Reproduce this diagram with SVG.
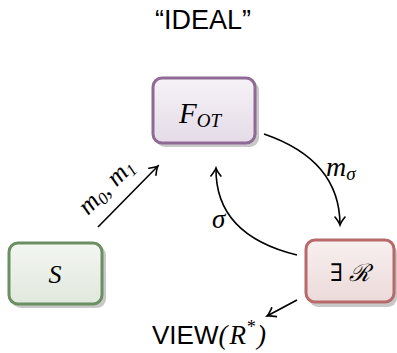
<svg xmlns="http://www.w3.org/2000/svg" width="397" height="353" viewBox="0 0 397 353">
<defs>
<linearGradient id="gP" x1="0" y1="0" x2="0" y2="1"><stop offset="0" stop-color="#f6f2f7"/><stop offset="1" stop-color="#e4dbe7"/></linearGradient>
<linearGradient id="gG" x1="0" y1="0" x2="0" y2="1"><stop offset="0" stop-color="#f3f6f1"/><stop offset="1" stop-color="#e1e8dd"/></linearGradient>
<linearGradient id="gR" x1="0" y1="0" x2="0" y2="1"><stop offset="0" stop-color="#f8f0f0"/><stop offset="1" stop-color="#ecdada"/></linearGradient>
<marker id="ah" viewBox="-10 -6 12 12" markerWidth="12" markerHeight="12" refX="0" refY="0" orient="auto" markerUnits="userSpaceOnUse">
<path d="M-8,-5 Q-3,-1 0,0 Q-3,1 -8,5" fill="none" stroke="#000" stroke-width="1.6" stroke-linecap="round"/>
</marker>
</defs>
<style>
.sh{fill:#c8c8c8}
.box{stroke-width:3}
.m{font-family:"Liberation Serif",serif;font-style:italic;fill:#000}
.s{font-family:"Liberation Sans",Arial,sans-serif;fill:#000}
.c{fill:none;stroke:#000;stroke-width:1.6;marker-end:url(#ah)}
</style>
<text class="s" x="203" y="29" font-size="27" text-anchor="middle">“IDEAL”</text>
<g id="fot">
<rect class="sh" x="156" y="81" width="103" height="66" rx="9"/>
<rect class="box" x="153" y="78" width="102" height="65" rx="9" fill="url(#gP)" stroke="#8e6a94"/>
<text class="m" x="179" y="123" font-size="29">F<tspan font-size="19" dy="4">OT</tspan></text>
</g>
<g id="s">
<rect class="sh" x="12" y="246" width="94" height="62" rx="9"/>
<rect class="box" x="9" y="243" width="93" height="61" rx="9" fill="url(#gG)" stroke="#6a8f62"/>
<text class="m" x="55" y="283" font-size="26" text-anchor="middle">S</text>
</g>
<g id="r">
<rect class="sh" x="309" y="244" width="88" height="63" rx="9"/>
<rect class="box" x="306" y="240" width="88" height="62" rx="9" fill="url(#gR)" stroke="#b86a6a"/>
<text x="350" y="281" font-size="24" text-anchor="middle"><tspan font-family="DejaVu Serif">∃</tspan><tspan font-family="DejaVu Serif" font-style="italic" dx="6">ℛ</tspan></text>
</g>
<g id="connectors">
<path class="c" d="M98,227 L158,166"/>
<path class="c" d="M264,134 Q340,160 340,225"/>
<path class="c" d="M297,255 Q215,235 216,168"/>
<path class="c" d="M297,300 L267,316"/>
</g>
<text class="m" x="0" y="0" font-size="26" transform="translate(88,216) rotate(-45)">m<tspan font-size="17" dy="4">0</tspan><tspan dy="-4">, m</tspan><tspan font-size="17" dy="4">1</tspan></text>
<text class="m" x="326" y="176" font-size="28">m<tspan font-size="19" dy="4">σ</tspan></text>
<text class="m" x="212" y="228" font-size="27">σ</text>
<text x="152" y="344" font-size="26"><tspan class="s">VIEW</tspan><tspan class="m" font-style="normal" font-size="27">(</tspan><tspan class="m" font-size="27" dx="2">R</tspan><tspan class="m" font-style="normal" font-size="18" dy="-11">*</tspan><tspan class="m" font-style="normal" font-size="27" dy="11" dx="2">)</tspan></text>
</svg>
